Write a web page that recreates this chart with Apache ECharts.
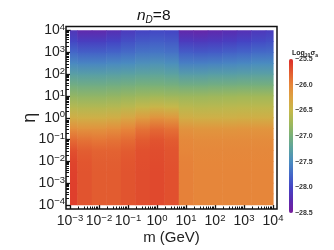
<!DOCTYPE html>
<html>
<head>
<meta charset="utf-8">
<script src="https://cdn.jsdelivr.net/npm/echarts@6/dist/echarts.min.js"></script>
<style>
  html, body { margin: 0; padding: 0; background: #fff; }
  #chart { width: 334px; height: 250px; }
</style>
</head>
<body>
<div id="chart"></div>
<script>
// ---- data (log10 m, log10 eta, log10 sigma) ----
const logM = [-3, -2.5, -2, -1.5, -1, -0.5, 0, 0.5, 1, 1.5, 2, 2.5, 3, 3.5, 4];
const logEta = [-4, -3.5, -3, -2.5, -2, -1.5, -1, -0.5, 0, 0.5, 1, 1.5, 2, 2.5, 3, 3.5, 4];
// rows follow logEta (bottom to top), columns follow logM
const logSigma = [
  [-25.61, -25.72, -25.76, -25.76, -25.72, -25.68, -25.66, -25.70, -25.97, -26.00, -26.00, -26.00, -26.00, -26.00, -26.00],
  [-25.61, -25.72, -25.76, -25.76, -25.72, -25.68, -25.66, -25.70, -25.97, -26.00, -26.00, -26.00, -26.00, -26.00, -26.00],
  [-25.61, -25.72, -25.76, -25.76, -25.72, -25.68, -25.66, -25.70, -25.97, -26.00, -26.00, -26.00, -26.00, -26.00, -26.00],
  [-25.62, -25.72, -25.76, -25.76, -25.72, -25.68, -25.66, -25.70, -25.97, -26.00, -26.00, -26.00, -26.00, -26.00, -26.00],
  [-25.64, -25.73, -25.77, -25.77, -25.73, -25.69, -25.67, -25.71, -25.98, -26.01, -26.01, -26.01, -26.01, -26.01, -26.01],
  [-25.70, -25.77, -25.80, -25.80, -25.76, -25.70, -25.68, -25.72, -26.00, -26.02, -26.02, -26.02, -26.02, -26.02, -26.02],
  [-25.85, -25.90, -25.92, -25.90, -25.85, -25.76, -25.72, -25.76, -26.03, -26.05, -26.05, -26.05, -26.05, -26.05, -26.05],
  [-26.08, -26.12, -26.12, -26.08, -26.00, -25.90, -25.84, -25.88, -26.12, -26.14, -26.14, -26.14, -26.13, -26.13, -26.13],
  [-26.38, -26.40, -26.40, -26.37, -26.30, -26.20, -26.12, -26.15, -26.37, -26.40, -26.40, -26.40, -26.39, -26.39, -26.39],
  [-26.62, -26.64, -26.64, -26.62, -26.58, -26.52, -26.47, -26.50, -26.58, -26.60, -26.59, -26.58, -26.57, -26.57, -26.57],
  [-26.83, -26.85, -26.85, -26.83, -26.80, -26.77, -26.75, -26.77, -26.78, -26.78, -26.77, -26.76, -26.75, -26.75, -26.75],
  [-27.05, -27.07, -27.07, -27.05, -27.03, -27.00, -27.00, -27.02, -27.05, -27.05, -27.04, -27.03, -27.02, -27.02, -27.02],
  [-27.28, -27.30, -27.30, -27.28, -27.26, -27.23, -27.22, -27.25, -27.32, -27.32, -27.30, -27.30, -27.28, -27.27, -27.27],
  [-27.52, -27.55, -27.55, -27.52, -27.50, -27.45, -27.43, -27.47, -27.58, -27.58, -27.57, -27.55, -27.53, -27.50, -27.50],
  [-27.75, -27.80, -27.80, -27.77, -27.72, -27.67, -27.65, -27.68, -27.82, -27.85, -27.83, -27.80, -27.77, -27.73, -27.72],
  [-27.98, -28.05, -28.05, -28.00, -27.92, -27.85, -27.82, -27.85, -28.08, -28.10, -28.08, -28.05, -28.00, -27.95, -27.92],
  [-28.15, -28.30, -28.30, -28.22, -28.10, -28.02, -27.98, -28.00, -28.32, -28.35, -28.30, -28.25, -28.20, -28.12, -28.08]
];
const xTicks = [-3, -2, -1, 0, 1, 2, 3, 4];
const yTicks = [-4, -3, -2, -1, 0, 1, 2, 3, 4];
const cbarMin = -28.5, cbarMax = -25.5;
const cbarTicks = [-28.5, -28.0, -27.5, -27.0, -26.5, -26.0, -25.5];
// colour ramp, low -> high, evenly spaced over [cbarMin, cbarMax]
const ramp = ['#781c9c', '#5a2cb0', '#4444c4', '#4468c8', '#4a8cc0', '#5ca2a0', '#78b07a',
              '#a0b85a', '#c6b84a', '#dca242', '#e6863a', '#e25a30', '#dc2a28'];

// ---- helpers ----
function hexToRgb(h) { return [1, 3, 5].map(i => parseInt(h.substr(i, 2), 16)); }
const rampRgb = ramp.map(hexToRgb);
function colorAt(v) {
  let t = (v - cbarMin) / (cbarMax - cbarMin) * (ramp.length - 1);
  t = Math.max(0, Math.min(ramp.length - 1, t));
  const i = Math.min(ramp.length - 2, Math.floor(t)), f = t - i;
  const a = rampRgb[i], b = rampRgb[i + 1];
  return 'rgb(' + a.map((c, k) => Math.round(c + (b[k] - c) * f)).join(',') + ')';
}
const minus = s => String(s).replace('-', '\u2212');
const supFmt = v => '{b|10}{s|' + minus(Math.round(v)) + '}';
const minorOf = (ticks) => {
  const out = [];
  for (let i = 0; i < ticks.length - 1; i++) for (let k = 2; k <= 9; k++) out.push(ticks[i] + Math.log10(k));
  return out;
};

// cells: horizontal extent around each column, vertical span between consecutive rows
const xEdges = logM.map((x, i) => [
  i === 0 ? x : (logM[i - 1] + x) / 2,
  i === logM.length - 1 ? x : (x + logM[i + 1]) / 2
]);
const cells = [];
for (let j = 0; j < logEta.length - 1; j++) {
  for (let i = 0; i < logM.length; i++) {
    cells.push([xEdges[i][0], xEdges[i][1], logEta[j], logEta[j + 1], logSigma[j][i], logSigma[j + 1][i]]);
  }
}

const FONT = 'Liberation Sans, Arial, sans-serif';
const G = { left: 66, right: 57, top: 26.5, bottom: 39 };
const padX = 0.138, padY = 0.19;

const labelRich = {
  b: { fontSize: 14, fontFamily: FONT, color: '#222', lineHeight: 16 },
  s: { fontSize: 9.5, fontFamily: FONT, color: '#222', verticalAlign: 'top', lineHeight: 10 }
};
const tickStyle = w => ({ color: '#111', width: w });

const chart = echarts.init(document.getElementById('chart'), null, { renderer: 'canvas' });
chart.setOption({
  animation: false,
  backgroundColor: '#fff',
  title: [
    {
      text: '{i|n}{d|D}{n|=8}', left: 132, top: 2,
      textStyle: { fontWeight: 'normal', rich: {
        i: { fontSize: 15.5, fontStyle: 'italic', fontWeight: 'normal', fontFamily: FONT, color: '#111', lineHeight: 18 },
        d: { fontSize: 10, fontStyle: 'italic', fontWeight: 'normal', fontFamily: FONT, color: '#111', verticalAlign: 'bottom', lineHeight: 14 },
        n: { fontSize: 15.5, fontWeight: 'normal', fontFamily: FONT, color: '#111', lineHeight: 18 }
      } }
    },
    {
      text: '{a|Log}{s|10}{a|\u03c3}{s|a}', left: 287, top: 44,
      textStyle: { rich: {
        a: { fontSize: 7, fontWeight: 'bold', fontFamily: FONT, color: '#222', lineHeight: 9 },
        s: { fontSize: 5, fontWeight: 'bold', fontFamily: FONT, color: '#222', verticalAlign: 'bottom', lineHeight: 7 }
      } }
    }
  ],
  grid: [
    { left: G.left, right: G.right, top: G.top, bottom: G.bottom, show: true,
      borderColor: '#111', borderWidth: 1.5, backgroundColor: '#fff' },
    { left: 289, width: 4, top: 59, height: 154 }
  ],
  xAxis: [
    { type: 'value', gridIndex: 0, position: 'bottom', min: -3 - padX, max: 4 + padX,
      name: 'm (GeV)', nameLocation: 'middle', nameGap: 21, nameMoveOverlap: false,
      nameTextStyle: { fontSize: 15, fontFamily: FONT, color: '#222' },
      axisLine: { show: false, onZero: false }, splitLine: { show: false },
      axisTick: { show: true, inside: true, length: 4, customValues: xTicks, lineStyle: tickStyle(1.3) },
      axisLabel: { show: true, customValues: xTicks, margin: 4, formatter: supFmt, rich: labelRich } },
    { type: 'value', gridIndex: 0, position: 'bottom', min: -3 - padX, max: 4 + padX,
      axisLine: { show: false, onZero: false }, splitLine: { show: false }, axisLabel: { show: false },
      axisTick: { show: true, inside: true, length: 2.5, customValues: minorOf(xTicks), lineStyle: tickStyle(1) } },
    { type: 'value', gridIndex: 1, show: false, min: 0, max: 1 }
  ],
  yAxis: [
    { type: 'value', gridIndex: 0, position: 'left', min: -4 - padY, max: 4 + padY,
      name: '\u03b7', nameLocation: 'middle', nameGap: 27, nameRotate: 90, nameMoveOverlap: false,
      nameTextStyle: { fontSize: 18, fontFamily: FONT, color: '#222' },
      axisLine: { show: false, onZero: false }, splitLine: { show: false },
      axisTick: { show: true, inside: true, length: 5, customValues: yTicks, lineStyle: tickStyle(1.3) },
      axisLabel: { show: true, customValues: yTicks, margin: 1, formatter: supFmt, rich: labelRich } },
    { type: 'value', gridIndex: 0, position: 'left', min: -4 - padY, max: 4 + padY,
      axisLine: { show: false, onZero: false }, splitLine: { show: false }, axisLabel: { show: false },
      axisTick: { show: true, inside: true, length: 3, customValues: minorOf(yTicks), lineStyle: tickStyle(1) } },
    { type: 'value', gridIndex: 1, position: 'right', min: cbarMin, max: cbarMax, interval: 0.5,
      axisLine: { show: false, onZero: false }, splitLine: { show: false }, axisTick: { show: false },
      axisLabel: { show: true, margin: 2, formatter: v => minus(v.toFixed(1)),
        fontSize: 7, fontWeight: 'bold', fontFamily: FONT, color: '#333' } }
  ],
  visualMap: {
    type: 'continuous', min: cbarMin, max: cbarMax, calculable: false, show: true,
    seriesIndex: 1, dimension: 1, padding: 0,
    left: 289, top: 59, itemWidth: 4, itemHeight: 154, text: null,
    inRange: { color: ramp }
  },
  series: [
    {
      type: 'custom', xAxisIndex: 0, yAxisIndex: 0, clip: true, silent: true,
      data: cells,
      encode: { x: [0, 1], y: [2, 3] },
      renderItem: function (params, api) {
        const p0 = api.coord([api.value(0), api.value(2)]);
        const p1 = api.coord([api.value(1), api.value(3)]);
        const cBot = colorAt(api.value(4)), cTop = colorAt(api.value(5));
        return {
          type: 'rect',
          shape: { x: p0[0], y: p1[1] - 0.4, width: p1[0] - p0[0] + 0.6, height: p0[1] - p1[1] + 0.8 },
          style: { fill: new echarts.graphic.LinearGradient(0, 0, 0, 1, [
            { offset: 0, color: cTop }, { offset: 1, color: cBot }]) }
        };
      }
    },
    {
      type: 'scatter', xAxisIndex: 2, yAxisIndex: 2, data: cbarTicks.map(v => [0.5, v]),
      symbolSize: 0, silent: true
    }
  ]
});
</script>
</body>
</html>
